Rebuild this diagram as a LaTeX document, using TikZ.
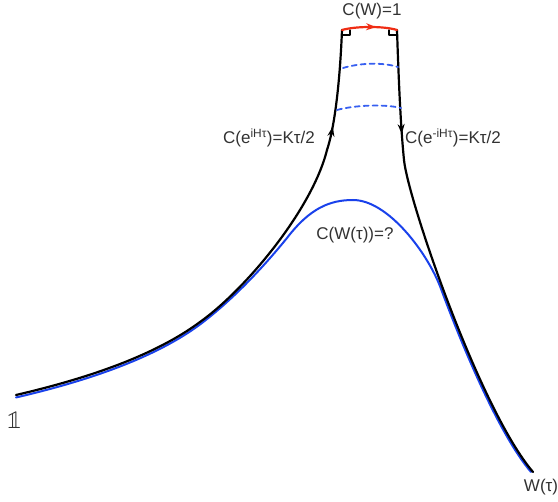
\documentclass[tikz,border=0pt]{standalone}
\usepackage{fontspec}
\setmainfont{Liberation Sans}
\newfontfamily\bbfont{latinmodern-math.otf}
\usepackage{tikz}
\usetikzlibrary{arrows.meta}
\usetikzlibrary{decorations.markings}

\definecolor{curveblue}{RGB}{25,65,235}
\definecolor{dashblue}{RGB}{55,95,240}
\definecolor{arcred}{RGB}{240,45,20}
\definecolor{txtgray}{RGB}{50,50,50}

\begin{document}
\begin{tikzpicture}[
        x=1pt, y=-1pt,
        line cap=round,
        line join=round,
        lbl/.style={text=txtgray, font=\fontsize{17}{20}\selectfont, inner sep=1pt},
        edge/.style={black, line width=2.2pt},
        midarrow/.style={postaction={decorate}, decoration={markings,
            mark=at position #1 with {\arrow{Stealth[length=10pt,width=7pt]}}}}
    ]
        \useasboundingbox (0,0) rectangle (558,502);

        % punti principali
        \coordinate (one) at (16,395);
        \coordinate (wt) at (533,472);
        \coordinate (tl) at (342,30);
        \coordinate (tr) at (397,30);
        \coordinate (la) at (200,322);
        \coordinate (lk) at (327,150);
        \coordinate (rk) at (404,160);

        % curva blu W(tau)
        \draw[curveblue, line width=2pt] (16,397.5)
            .. controls (76,383.5) and (150,361.5) .. (200,324.5)
            .. controls (235,298) and (265,265) .. (287,238)
            .. controls (310,208) and (330,200) .. (353,200)
            .. controls (388,200) and (427.7,253) .. (440.8,288.3)
            .. controls (467,359) and (501.9,437.9) .. (531,472);

        % bordi neri
        \draw[edge] (one) .. controls (76,381) and (150,359) .. (la);
        \draw[edge] (la) .. controls (245,290) and (312,210) .. (lk);
        \draw[edge, midarrow=0.2] (lk) .. controls (335,126) and (340,80) .. (tl);
        \draw[edge, midarrow=0.8] (tr) .. controls (399,90) and (401,130) .. (rk);
        \draw[edge] (rk) .. controls (408,200) and (480,410) .. (wt);

        % angoli retti
        \draw[black, line width=1.4pt] (tl) ++(0,5) -- ++(8,0) -- ++(0,-5);
        \draw[black, line width=1.4pt] (tr) ++(0,5) -- ++(-8,0) -- ++(0,-5);

        % tagli tratteggiati
        \draw[dashblue, line width=1.8pt, dash pattern=on 5pt off 4pt]
            (343,68) .. controls (360,63) and (382,62) .. (398,67);
        \draw[dashblue, line width=1.8pt, dash pattern=on 5pt off 4pt]
            (337,110) .. controls (355,105) and (385,104) .. (401,108);

        % arco rosso
        \draw[arcred, line width=2.2pt, midarrow=0.62] (tl) .. controls (356,26) and (384,26) .. (tr);

        % etichette
        \node[lbl] (cw) at (372,11) {C(W)=1};
        \node[lbl, anchor=east] (cl) at (316,138) {C(e\textsuperscript{iHτ})=Kτ/2};
        \node[lbl, anchor=west] (cr) at (404,138) {C(e\textsuperscript{-iHτ})=Kτ/2};
        \node[lbl] (cq) at (355,235) {C(W(τ))=?};
        \node[lbl, font=\fontsize{26}{28}\selectfont] (lone) at (15,420) {\bbfont 𝟙};
        \node[lbl] (lwt) at (541,487) {W(τ)};
    \end{tikzpicture}
\end{document}
